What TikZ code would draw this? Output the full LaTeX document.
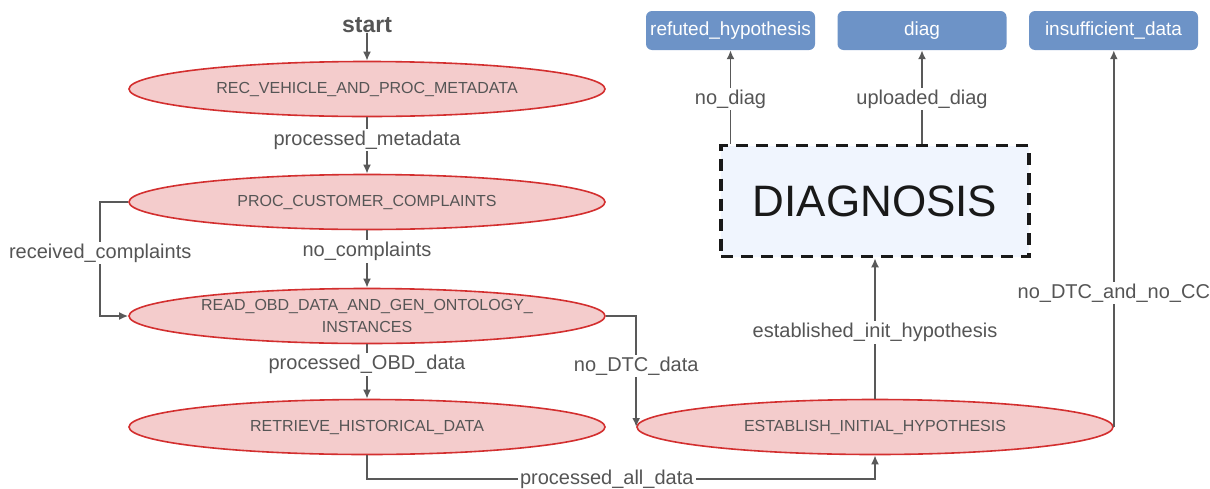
\documentclass[tikz,border=0pt]{standalone}
\usepackage{fontspec}
\setmainfont{Liberation Sans}
\usetikzlibrary{arrows.meta,shapes.geometric}
\definecolor{statefill}{HTML}{F4CCCC}
\definecolor{stateline}{HTML}{D32F2F}
\definecolor{outfill}{HTML}{6D93C7}
\definecolor{edgegray}{HTML}{595959}
\definecolor{txtgray}{HTML}{555555}
\definecolor{diagfill}{HTML}{F0F5FE}

\begin{document}
\begin{tikzpicture}[x=1pt,y=-1pt,
  state/.style={ellipse, draw=stateline, line width=1.6pt, fill=statefill,
    minimum width=476pt, minimum height=55pt, inner sep=0pt, text=txtgray,
    font=\fontsize{16}{22}\selectfont, align=center},
  outbox/.style={rectangle, rounded corners=6pt, fill=outfill, text=white,
    minimum height=39pt, minimum width=169pt, inner sep=0pt,
    font=\fontsize{19}{22}\selectfont},
  flow/.style={draw=edgegray, line width=1.8pt, -{Latex[length=9pt,width=8pt]}},
  lbl/.style={fill=white, text=txtgray, inner sep=2pt, font=\fontsize{20}{24}\selectfont},
]
\useasboundingbox (0,0) rectangle (1210,488);

% states
\node[inner sep=0pt, text=txtgray, font=\fontsize{23}{26}\selectfont\bfseries] (start) at (367,25) {start};
\node[state] (rec)  at (367,89)  {REC\_VEHICLE\_AND\_PROC\_METADATA};
\node[state] (pcc)  at (367,202) {PROC\_CUSTOMER\_COMPLAINTS};
\node[state, inner ysep=-12pt] (read) at (367,316) {READ\_OBD\_DATA\_AND\_GEN\_ONTOLOGY\_\\INSTANCES};
\node[state] (ret)  at (367,427) {RETRIEVE\_HISTORICAL\_DATA};
\node[state] (est)  at (875,427) {ESTABLISH\_INITIAL\_HYPOTHESIS};

% diagnosis block
\node[rectangle, draw=black!90, fill=diagfill, line width=3.5pt,
  dash pattern=on 12pt off 8pt, minimum width=308pt, minimum height=111pt,
  inner sep=0pt, text=black!90, font=\fontsize{44}{48}\selectfont] (diagnosis) at (875,201) {DIAGNOSIS};

% outcomes
\node[outbox] (refuted) at (730.5,30.5) {refuted\_hypothesis};
\node[outbox] (diag)    at (922,30.5)   {diag};
\node[outbox] (insuf)   at (1113.5,30.5) {insufficient\_data};

% transitions
\draw[flow] (start.south) -- (rec.north);
\draw[flow] (rec.south) -- node[lbl, pos=0.4] (l1) {processed\_metadata} (pcc.north);
\draw[flow] (pcc.south) -- node[lbl, pos=0.37] (l2) {no\_complaints} (read.north);
\draw[flow] (pcc.west) -- ++(-28,0) |- node[lbl, pos=0.224] (l3) {received\_complaints} (read.west);
\draw[flow] (read.south) -- node[lbl, pos=0.37] (l4) {processed\_OBD\_data} (ret.north);
\draw[flow] (read.east) -| node[lbl, pos=0.725] (l5) {no\_DTC\_data} (est.west);
\draw[flow] (ret.south) -- ++(0,24) -| node[lbl, pos=0.236] (l6) {processed\_all\_data} (est.south);
\draw[flow] (est.north) -- node[lbl, pos=0.47] (l7) {established\_init\_hypothesis} (diagnosis.south);
\draw[flow] (est.east) -- node[lbl, pos=0.355] (l8) {no\_DTC\_and\_no\_CC} (est.east |- insuf.south);
\draw[flow] (diagnosis.north -| refuted.south) -- node[lbl, pos=0.48] (l9) {no\_diag} (refuted.south);
\draw[flow] (diagnosis.north -| diag.south) -- node[lbl, pos=0.48] (l10) {uploaded\_diag} (diag.south);
\end{tikzpicture}
\end{document}
